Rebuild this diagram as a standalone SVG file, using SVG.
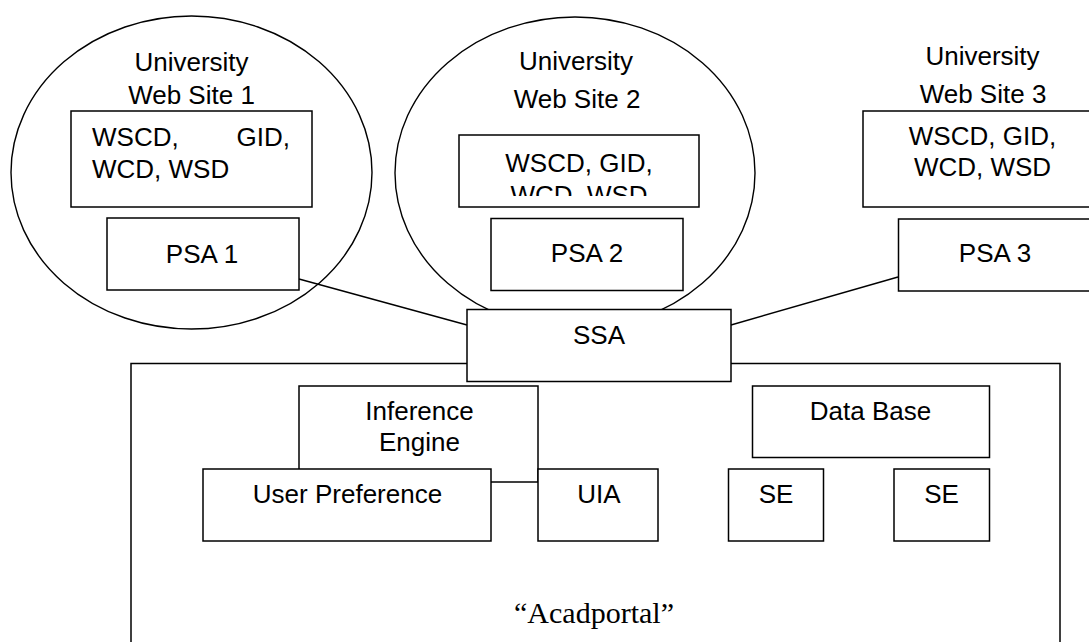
<svg xmlns="http://www.w3.org/2000/svg" width="1089" height="642" viewBox="0 0 1089 642">
  <style>
    .box { fill: #ffffff; stroke: #000000; stroke-width: 1.5; }
    .ell { fill: none; stroke: #000000; stroke-width: 1.4; }
    .conn { fill: none; stroke: #000000; stroke-width: 1.4; }
    .t { font-family: "Liberation Sans", Arial, sans-serif; font-size: 26px; fill: #000000; }
    .c { text-anchor: middle; }
    .serif { font-family: "Liberation Serif", "Times New Roman", serif; font-size: 30px; fill: #000000; text-anchor: middle; }
  </style>
  <defs>
    <clipPath id="clip2">
      <rect x="459" y="135" width="240" height="61"/>
    </clipPath>
  </defs>
  <rect width="1089" height="642" fill="#ffffff"/>

  <g id="site1">
    <ellipse class="ell" cx="191.5" cy="172.5" rx="180.5" ry="156.5"/>
    <text class="t c" x="191.5" y="71">University</text>
    <text class="t c" x="191.5" y="104">Web Site 1</text>
  </g>
  <g id="site2">
    <ellipse class="ell" cx="575" cy="173" rx="180" ry="156"/>
    <text class="t c" x="576" y="70">University</text>
    <text class="t c" x="577" y="108">Web Site 2</text>
  </g>
  <g id="site3">
    <text class="t c" x="982.5" y="65">University</text>
    <text class="t c" x="983" y="103">Web Site 3</text>
  </g>

  <g id="connectors">
    <line class="conn" x1="299" y1="279" x2="467" y2="325"/>
    <line class="conn" x1="898" y1="277" x2="731" y2="325"/>
  </g>

  <g id="data1">
    <rect class="box" x="71" y="111" width="241" height="96"/>
    <text class="t" x="92" y="145.5">WSCD,</text>
    <text class="t" x="290" y="145.5" text-anchor="end">GID,</text>
    <text class="t" x="92" y="177.5">WCD, WSD</text>
  </g>
  <g id="psa1">
    <rect class="box" x="107" y="218" width="192" height="72"/>
    <text class="t c" x="202" y="263">PSA 1</text>
  </g>

  <g id="data2">
    <rect class="box" x="459" y="135" width="240" height="72"/>
    <g clip-path="url(#clip2)">
      <text class="t c" x="579" y="171.5">WSCD, GID,</text>
      <text class="t c" x="579" y="203.5">WCD, WSD</text>
    </g>
  </g>
  <g id="psa2">
    <rect class="box" x="491" y="218.5" width="192" height="72"/>
    <text class="t c" x="587" y="261.5">PSA 2</text>
  </g>

  <g id="data3">
    <rect class="box" x="863" y="111" width="240" height="96"/>
    <text class="t c" x="982.5" y="145">WSCD, GID,</text>
    <text class="t c" x="982.5" y="176">WCD, WSD</text>
  </g>
  <g id="psa3">
    <rect class="box" x="898.5" y="219" width="200" height="72"/>
    <text class="t c" x="995" y="261.5">PSA 3</text>
  </g>

  <g id="acadportal">
    <rect class="box" x="131" y="363.5" width="929" height="300"/>
    <text class="serif" x="594" y="623">“Acadportal”</text>
  </g>

  <g id="ssa">
    <rect class="box" x="467" y="309.5" width="264" height="72"/>
    <text class="t c" x="599" y="344">SSA</text>
  </g>

  <g id="inference-engine">
    <rect class="box" x="299" y="386" width="239" height="96"/>
    <text class="t c" x="419.5" y="420">Inference</text>
    <text class="t c" x="419.5" y="450.5">Engine</text>
  </g>
  <g id="user-preference">
    <rect class="box" x="203" y="469" width="288" height="72"/>
    <text class="t c" x="347.5" y="502.5">User Preference</text>
  </g>
  <g id="uia">
    <rect class="box" x="538" y="469" width="120" height="72"/>
    <text class="t c" x="599" y="502.5">UIA</text>
  </g>
  <g id="database">
    <rect class="box" x="752.5" y="386" width="237" height="71.5"/>
    <text class="t c" x="870.5" y="420">Data Base</text>
  </g>
  <g id="se1">
    <rect class="box" x="728.5" y="469" width="95" height="72"/>
    <text class="t c" x="776" y="502.5">SE</text>
  </g>
  <g id="se2">
    <rect class="box" x="894" y="469" width="95.5" height="72"/>
    <text class="t c" x="941.5" y="502.5">SE</text>
  </g>
</svg>
